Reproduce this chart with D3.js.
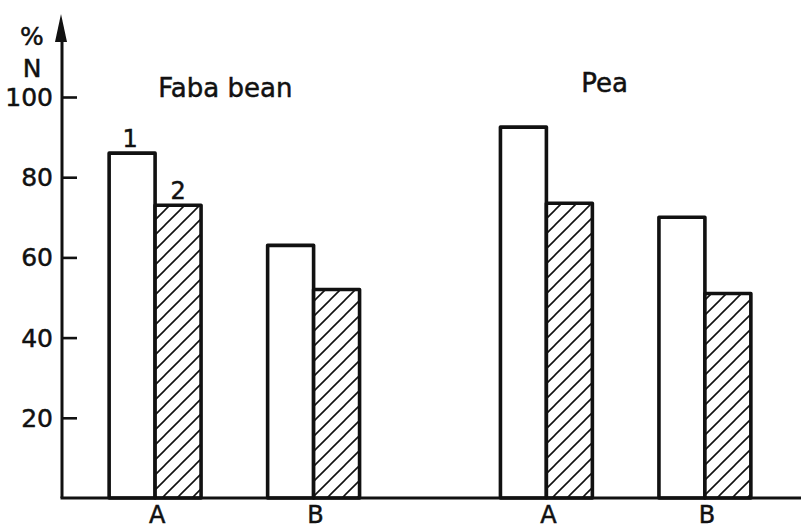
<!DOCTYPE html>
<html>
<head>
<meta charset="utf-8">
<script src="https://cdn.jsdelivr.net/npm/d3@7"></script>
<style>
  html, body { margin: 0; padding: 0; background: #fff; }
  svg { display: block; }
  text { font-family: "DejaVu Sans", sans-serif; fill: #111; stroke: #111; stroke-width: 0.5; }
</style>
</head>
<body>
<svg id="chart" width="801" height="530"></svg>
<script>
// ---- data ----
const species = ["Faba bean", "Pea"];
const groups = ["A", "B"];
const seriesKeys = ["1", "2"];
const fabaSeries1 = [86, 63];   // A, B
const fabaSeries2 = [73, 52];
const peaSeries1 = [92.5, 70];
const peaSeries2 = [73.5, 51];
const yTicks = [20, 40, 60, 80, 100];
const yUnitLabels = ["%", "N"];

const values = {
  "Faba bean": { "1": fabaSeries1, "2": fabaSeries2 },
  "Pea": { "1": peaSeries1, "2": peaSeries2 }
};

const svg = d3.select("#chart");
const axisX = 62, baseY = 498, topY = 97;

const y = d3.scaleLinear().domain([0, 100]).range([baseY, topY]);
const xOuter = d3.scaleBand().domain(species).range([70, 790]).paddingInner(0.36).paddingOuter(0.1);
const xGroup = d3.scaleBand().domain(groups).range([0, xOuter.bandwidth()]).paddingInner(0.42).paddingOuter(0);
const xSeries = d3.scaleBand().domain(seriesKeys).range([0, xGroup.bandwidth()]).padding(0);

// hatch pattern
const defs = svg.append("defs");
const pat = defs.append("pattern").attr("id", "hatch")
  .attr("patternUnits", "userSpaceOnUse").attr("width", 15).attr("height", 15);
pat.append("rect").attr("width", 15).attr("height", 15).attr("fill", "#fff");
pat.append("path").attr("d", "M-2,2 L2,-2 M0,15 L15,0 M13,17 L17,13")
  .attr("stroke", "#111").attr("stroke-width", 1.6);

// bars
const rows = [];
species.forEach(sp => groups.forEach((g, gi) => seriesKeys.forEach(s => {
  rows.push({ sp, g, s, v: values[sp][s][gi] });
})));

svg.append("g").selectAll("rect").data(rows).join("rect")
  .attr("x", d => xOuter(d.sp) + xGroup(d.g) + xSeries(d.s))
  .attr("y", d => y(d.v))
  .attr("width", xSeries.bandwidth())
  .attr("height", d => y(0) - y(d.v))
  .attr("fill", d => d.s === "1" ? "#fff" : "url(#hatch)")
  .attr("stroke", "#111").attr("stroke-width", 3.6)
  .attr("stroke-linejoin", "round");

// series labels "1" and "2" on first faba group
const first = rows.filter(d => d.sp === species[0] && d.g === groups[0]);
svg.append("g").selectAll("text").data(first).join("text")
  .attr("x", d => xOuter(d.sp) + xGroup(d.g) + xSeries(d.s) + xSeries.bandwidth() / 2 + (d.s === "1" ? -2 : 0))
  .attr("y", d => y(d.v) - 6)
  .attr("text-anchor", "middle")
  .attr("font-size", 24)
  .text(d => d.s);

// y axis ticks
const yAxis = d3.axisRight(y).tickValues(yTicks).tickSize(15).tickFormat("");
const gy = svg.append("g").attr("transform", `translate(${axisX},0)`).call(yAxis);
gy.select(".domain").remove();
gy.selectAll(".tick line").attr("stroke", "#111").attr("stroke-width", 2.6);

svg.append("g").selectAll("text").data(yTicks).join("text")
  .attr("x", axisX - 9).attr("y", d => y(d) + 9)
  .attr("text-anchor", "end").attr("font-size", 25)
  .text(d => d);

svg.append("line").attr("x1", axisX).attr("x2", axisX)
  .attr("y1", baseY).attr("y2", 30)
  .attr("stroke", "#111").attr("stroke-width", 3);
svg.append("path").attr("d", `M${axisX - 1},14 L${axisX + 5},42 L${axisX - 7},42 Z`).attr("fill", "#111");

// x axis baseline
svg.append("line").attr("x1", axisX - 1.5).attr("x2", 801)
  .attr("y1", baseY).attr("y2", baseY)
  .attr("stroke", "#111").attr("stroke-width", 3);

// unit labels
svg.append("g").selectAll("text").data(yUnitLabels).join("text")
  .attr("x", 32).attr("y", (d, i) => 45 + i * 32)
  .attr("text-anchor", "middle").attr("font-size", 25)
  .text(d => d);

// group labels A / B
const groupLabels = [];
species.forEach(sp => groups.forEach(g => groupLabels.push({ sp, g })));
svg.append("g").selectAll("text").data(groupLabels).join("text")
  .attr("x", d => xOuter(d.sp) + xGroup(d.g) + xGroup.bandwidth() / 2 + 2)
  .attr("y", 523)
  .attr("text-anchor", "middle").attr("font-size", 24)
  .text(d => d.g);

// species titles
svg.append("g").selectAll("text").data(species).join("text")
  .attr("x", d => xOuter(d) + xOuter.bandwidth() / 2 + (d === "Pea" ? -21 : -9))
  .attr("y", (d, i) => i === 0 ? 97 : 92)
  .attr("text-anchor", "middle").attr("font-size", 26)
  .text(d => d);
</script>
</body>
</html>
